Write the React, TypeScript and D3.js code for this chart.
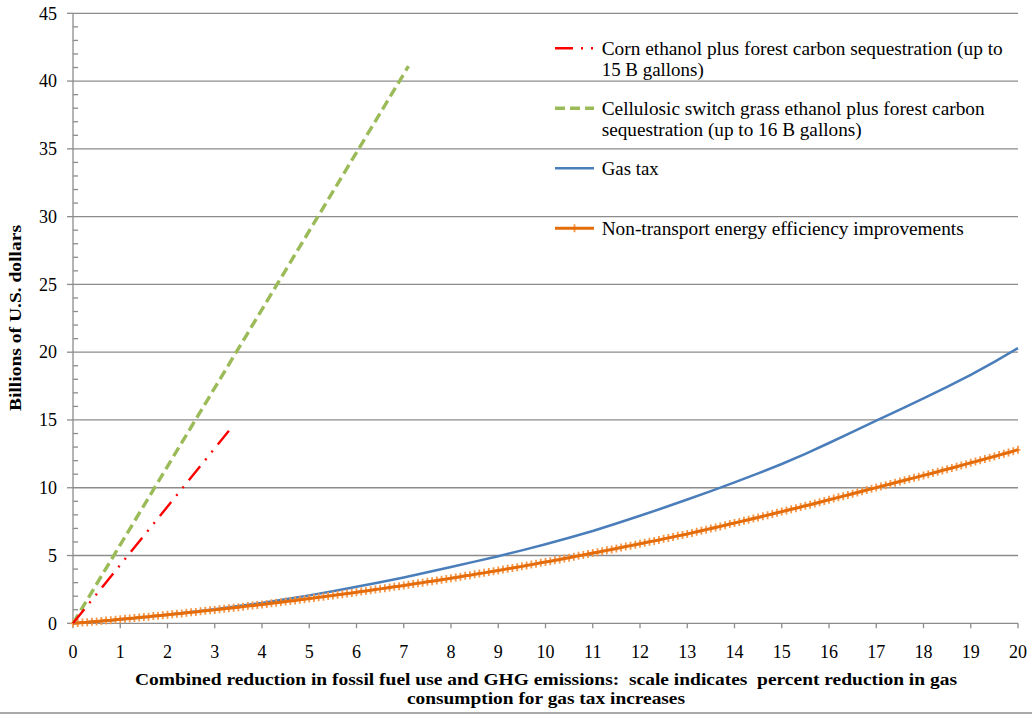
import React from "react";
import * as d3 from "d3";

// ---------- data ----------
const xTickValues = d3.range(0, 21);
const yMajorTicks = [0, 5, 10, 15, 20, 25, 30, 35, 40, 45];

const cornX = [0, 3.3];
const cornY = [0, 14.2];

const cellulosicX = [0, 7.1];
const cellulosicY = [0, 41.1];

const gasTaxX = [
  0, 0.5, 1, 1.5, 2, 2.5, 3, 3.5, 4, 4.5, 5, 5.5, 6, 6.5, 7, 7.5, 8, 8.5, 9, 9.5,
  10, 10.5, 11, 11.5, 12, 12.5, 13, 13.5, 14, 14.5, 15, 15.5, 16, 16.5, 17, 17.5,
  18, 18.5, 19, 19.5, 20,
];
const gasTaxY = [
  0, 0.13, 0.28, 0.45, 0.63, 0.83, 1.04, 1.27, 1.5, 1.78, 2.06, 2.37, 2.69, 3.03,
  3.38, 3.76, 4.16, 4.55, 4.95, 5.38, 5.83, 6.31, 6.81, 7.36, 7.93, 8.52, 9.13,
  9.75, 10.4, 11.06, 11.75, 12.5, 13.3, 14.12, 14.95, 15.77, 16.6, 17.45, 18.33,
  19.28, 20.3,
];

// Non-transport energy efficiency: one point every 0.1 on the x scale (0 .. 20)
const efficiencyY = [
  0.0, 0.03, 0.06, 0.08, 0.11, 0.14, 0.17, 0.2, 0.23, 0.27,
  0.3, 0.33, 0.36, 0.39, 0.43, 0.46, 0.49, 0.53, 0.56, 0.59,
  0.63, 0.66, 0.7, 0.73, 0.77, 0.81, 0.84, 0.88, 0.92, 0.96,
  0.99, 1.03, 1.07, 1.11, 1.15, 1.19, 1.23, 1.27, 1.31, 1.35,
  1.39, 1.43, 1.48, 1.52, 1.56, 1.6, 1.65, 1.69, 1.74, 1.78,
  1.83, 1.87, 1.92, 1.96, 2.01, 2.05, 2.1, 2.15, 2.2, 2.24,
  2.29, 2.34, 2.39, 2.44, 2.49, 2.54, 2.59, 2.64, 2.69, 2.74,
  2.79, 2.85, 2.9, 2.95, 3.0, 3.06, 3.11, 3.16, 3.22, 3.27,
  3.33, 3.38, 3.44, 3.5, 3.55, 3.61, 3.67, 3.72, 3.78, 3.84,
  3.9, 3.96, 4.02, 4.08, 4.14, 4.2, 4.27, 4.33, 4.39, 4.46,
  4.52, 4.58, 4.65, 4.71, 4.78, 4.84, 4.91, 4.98, 5.04, 5.11,
  5.18, 5.24, 5.31, 5.38, 5.45, 5.52, 5.59, 5.66, 5.73, 5.8,
  5.87, 5.94, 6.01, 6.08, 6.15, 6.23, 6.3, 6.37, 6.45, 6.52,
  6.59, 6.67, 6.75, 6.83, 6.91, 6.99, 7.07, 7.15, 7.23, 7.32,
  7.4, 7.48, 7.56, 7.64, 7.73, 7.81, 7.9, 7.98, 8.06, 8.15,
  8.24, 8.32, 8.41, 8.49, 8.58, 8.67, 8.75, 8.84, 8.93, 9.02,
  9.11, 9.2, 9.29, 9.38, 9.47, 9.56, 9.65, 9.74, 9.83, 9.92,
  10.01, 10.1, 10.19, 10.28, 10.37, 10.46, 10.55, 10.64, 10.73, 10.82,
  10.91, 11.0, 11.09, 11.18, 11.28, 11.37, 11.46, 11.55, 11.65, 11.74,
  11.84, 11.93, 12.03, 12.12, 12.22, 12.31, 12.41, 12.51, 12.6, 12.7,
  12.8,
];
const efficiencyX = efficiencyY.map((_, i) => i / 10);

const legendLabels = [
  ["Corn ethanol plus forest carbon sequestration (up to", "15 B gallons)"],
  ["Cellulosic switch grass ethanol plus forest carbon", "sequestration (up to 16 B gallons)"],
  ["Gas tax"],
  ["Non-transport energy efficiency improvements"],
];

const xTitleLines = [
  "Combined reduction in fossil fuel use and GHG emissions:  scale indicates  percent reduction in gas",
  "consumption for gas tax increases",
];
const yTitle = "Billions of U.S. dollars";

// ---------- styling ----------
const W = 1032;
const H = 715;
const FONT = '"Liberation Serif", "Times New Roman", serif';
const GRID = "#8c8c8c";
const RED = "#ff0000";
const GREEN = "#9bbb59";
const BLUE = "#4a7ebb";
const ORANGE = "#e46c0a";
const ORANGE_MK = "#f79646";

// measured text widths of the reference rendering (its text is slightly stretched)
const legendWidths = [[401, 102], [383, 260], [57], [362]];
const xTitleWidths = [822, 278];
const yTitleWidth = 186;

const x = d3.scaleLinear().domain([0, 20]).range([73, 1018]);
const y = d3.scaleLinear().domain([0, 45]).range([623.3, 13.3]);

type P = [number, number];
const zip = (xs: number[], ys: number[]): P[] => xs.map((v, i) => [v, ys[i]]);
const line = d3
  .line<P>()
  .x((d) => x(d[0]))
  .y((d) => y(d[1]));

const plus = (cx: number, cy: number) =>
  `M${cx},${cy - 4}V${cy + 4}M${cx - 2.5},${cy}H${cx + 2.5}`;

const textStyle: React.CSSProperties = { fontFamily: FONT, whiteSpace: "pre" };

export default function App() {
  const minorTicks = d3.range(0, 46).filter((v) => v % 5 !== 0);
  const effPts = zip(efficiencyX, efficiencyY);
  const legendX0 = 555;
  const legendX1 = 594;
  const legendRows = [48.3, 108.3, 168.3, 228.3];

  return (
    <svg
      width={W}
      height={H}
      style={{ position: "absolute", left: 0, top: 0, background: "#fff", fontFamily: FONT }}
    >
      {/* bottom frame line */}
      <line x1={0} x2={W} y1={713} y2={713} stroke={GRID} strokeWidth={1.5} />

      {/* gridlines */}
      {yMajorTicks
        .filter((v) => v > 0)
        .map((v) => (
          <line key={"g" + v} x1={x(0)} x2={x(20)} y1={y(v)} y2={y(v)} stroke={GRID} strokeWidth={1.3} />
        ))}

      {/* y axis */}
      <line x1={x(0)} x2={x(0)} y1={y(0)} y2={y(45)} stroke={GRID} strokeWidth={1.3} />
      {yMajorTicks.map((v) => (
        <g key={"yt" + v}>
          <line x1={x(0) - 6} x2={x(0)} y1={y(v)} y2={y(v)} stroke={GRID} strokeWidth={1.3} />
          <text x={57} y={y(v)} dy="0.35em" textAnchor="end" fontSize={18} fill="#000" style={textStyle}>
            {v}
          </text>
        </g>
      ))}
      {minorTicks.map((v) => (
        <line key={"ym" + v} x1={x(0)} x2={x(0) + 5} y1={y(v)} y2={y(v)} stroke={GRID} strokeWidth={1.3} />
      ))}

      {/* x axis */}
      <line x1={x(0)} x2={x(20)} y1={y(0)} y2={y(0)} stroke={GRID} strokeWidth={1.3} />
      {xTickValues.map((v) => (
        <g key={"xt" + v}>
          <line x1={x(v)} x2={x(v)} y1={y(0)} y2={y(0) + 5} stroke={GRID} strokeWidth={1.3} />
          <text x={x(v)} y={657.7} textAnchor="middle" fontSize={18} fill="#000" style={textStyle}>
            {v}
          </text>
        </g>
      ))}

      {/* series */}
      <path d={line(zip(gasTaxX, gasTaxY)) || ""} fill="none" stroke={BLUE} strokeWidth={2.5} />
      <path
        d={effPts.map((p) => plus(x(p[0]), y(p[1]))).join("")}
        fill="none"
        stroke={ORANGE_MK}
        strokeWidth={1.8}
      />
      <path d={line(effPts) || ""} fill="none" stroke={ORANGE} strokeWidth={3} />
      <path
        d={line(zip(cellulosicX, cellulosicY)) || ""}
        fill="none"
        stroke={GREEN}
        strokeWidth={3.4}
        strokeDasharray="10 5"
      />
      <path
        d={line(zip(cornX, cornY)) || ""}
        fill="none"
        stroke={RED}
        strokeWidth={2.4}
        strokeDasharray="18 8 2 8 2 8"
      />

      {/* legend */}
      <g>
        <line x1={legendX0} x2={legendX1} y1={legendRows[0]} y2={legendRows[0]} stroke={RED} strokeWidth={2.4} strokeDasharray="18 8 2 8 2 8" />
        <line x1={legendX0} x2={legendX1} y1={legendRows[1]} y2={legendRows[1]} stroke={GREEN} strokeWidth={3.4} strokeDasharray="10 5" />
        <line x1={legendX0} x2={legendX1} y1={legendRows[2]} y2={legendRows[2]} stroke={BLUE} strokeWidth={2.5} />
        <path d={plus((legendX0 + legendX1) / 2, legendRows[3])} stroke={ORANGE_MK} strokeWidth={1.8} fill="none" />
        <line x1={legendX0} x2={legendX1} y1={legendRows[3]} y2={legendRows[3]} stroke={ORANGE} strokeWidth={3} />
        {legendLabels.map((lines, i) =>
          lines.map((t, j) => (
            <text
              key={"l" + i + j}
              x={601.7}
              y={legendRows[i] + 6.5 + j * 21.5}
              fontSize={18}
              fill="#000"
              style={textStyle}
              textLength={legendWidths[i][j]}
              lengthAdjust="spacingAndGlyphs"
            >
              {t}
            </text>
          ))
        )}
      </g>

      {/* axis titles */}
      {xTitleLines.map((t, i) => (
        <text
          key={"xt" + i}
          x={546}
          y={685 + i * 19}
          textAnchor="middle"
          fontSize={17.5}
          fontWeight="bold"
          fill="#000"
          style={textStyle}
          textLength={xTitleWidths[i]}
          lengthAdjust="spacingAndGlyphs"
        >
          {t}
        </text>
      ))}
      <text
        transform={`translate(21,318) rotate(-90)`}
        textAnchor="middle"
        fontSize={17.5}
        fontWeight="bold"
        fill="#000"
        style={textStyle}
        textLength={yTitleWidth}
        lengthAdjust="spacingAndGlyphs"
      >
        {yTitle}
      </text>
    </svg>
  );
}
